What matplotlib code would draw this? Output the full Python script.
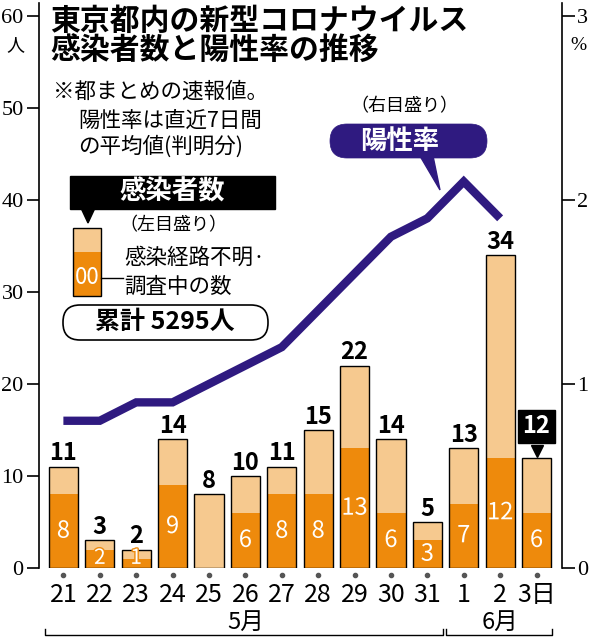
import matplotlib
matplotlib.use("Agg")
import matplotlib.pyplot as plt
import matplotlib.patheffects as pe
from matplotlib.patches import FancyBboxPatch, Polygon, Rectangle
import numpy as np

# data
days = ["21", "22", "23", "24", "25", "26", "27", "28", "29", "30", "31", "1", "2", "3日"]
total = [11, 3, 2, 14, 8, 10, 11, 15, 22, 14, 5, 13, 34, 12]
unknown = [8, 2, 1, 9, 0, 6, 8, 8, 13, 6, 3, 7, 12, 6]
rate = [0.8, 0.8, 0.9, 0.9, 1.0, 1.1, 1.2, 1.4, 1.6, 1.8, 1.9, 2.1, 1.9]
months = ["5月", "6月"]
month_span = [(0, 10), (11, 13)]
left_ticks = [0, 10, 20, 30, 40, 50, 60]
right_ticks = [0, 1, 2, 3]

DARK = "#ee8a0c"
LIGHT = "#f6c98f"
PURPLE = "#2f1a80"

NARROW = ["Liberation Sans Narrow", "Noto Sans CJK JP", "DejaVu Sans"]
JP = ["Noto Sans CJK JP", "DejaVu Sans"]
SERIF = ["Liberation Serif", "DejaVu Serif"]

fig = plt.figure(figsize=(5.92, 6.4), dpi=100)
ax = fig.add_axes([39 / 592, 1 - 568 / 640, (562 - 39) / 592, 565 / 640])
x = np.arange(len(days))
w = 0.8

ax.bar(x, total, w, color=LIGHT, lw=0, zorder=2)
ax.bar(x, unknown, w, color=DARK, lw=0, zorder=3)
ax.bar(x, total, w, fill=False, edgecolor="black", lw=1.0, zorder=4)

for i in range(len(days) - 1):
    ax.annotate(str(total[i]), (x[i], total[i]), xytext=(0, 1), textcoords="offset points",
                ha="center", va="bottom", fontsize=17, fontweight="bold", family=NARROW, zorder=6)
for i in range(len(days)):
    if unknown[i] == 0:
        continue
    small = total[i] <= 3
    ax.text(x[i], 1.1 if small else unknown[i] / 2, str(unknown[i]), ha="center", va="center",
            color="white", fontsize=15 if small else 17, family=NARROW, zorder=6,
            path_effects=[pe.withStroke(linewidth=2, foreground=DARK)])

# last day highlighted
ax.text(x[-1], total[-1] + 3.4, str(total[-1]), ha="center", va="center", color="white",
        fontsize=17, fontweight="bold", family=NARROW, zorder=7,
        bbox=dict(boxstyle="square,pad=0.18", fc="black", ec="black"))
ax.plot([x[-1]], [total[-1] + 0.75], marker="v", color="black", ms=8, zorder=7, clip_on=False)

ax.set_xlim(-0.67, 13.7)
ax.set_ylim(0, 61.4)
ax.set_yticks(left_ticks)
ax.set_yticklabels([str(t) for t in left_ticks], family=SERIF, fontsize=16)
ax.tick_params(axis="y", length=9, width=1.2, pad=2)
ax.set_xticks(x)
ax.set_xticklabels(days, family=NARROW, fontsize=18)
ax.tick_params(axis="x", length=0, pad=10)
ax.plot(x, [-0.8] * len(x), "o", color="#555555", ms=3, clip_on=False, zorder=5)
for s in ["top", "bottom", "right"]:
    ax.spines[s].set_visible(False)
ax.spines["left"].set_linewidth(1.2)

for m, (a, b) in zip(months, month_span):
    ax.text((a + b) / 2, -5.9, m, ha="center", va="center", fontsize=17, family=NARROW)
    ax.plot([a - 0.5, a - 0.5, b + 0.42, b + 0.42], [-6.6, -7.3, -7.3, -6.6],
            color="black", lw=1.0, clip_on=False)

ax2 = ax.twinx()
ax2.set_ylim(0, 61.4 / 20)
ax2.plot(x[:len(rate)], rate, color=PURPLE, lw=6, solid_joinstyle="miter",
         solid_capstyle="butt", zorder=5)
ax2.set_yticks(right_ticks)
ax2.set_yticklabels([str(t) for t in right_ticks], family=SERIF, fontsize=16)
ax2.tick_params(axis="y", length=9, width=1.2, pad=2)
for s in ["top", "bottom", "left"]:
    ax2.spines[s].set_visible(False)
ax2.spines["right"].set_linewidth(1.2)

# overlay in pixel coordinates for titles and legend pieces
ov = fig.add_axes([0, 0, 1, 1])
ov.set_xlim(0, 592)
ov.set_ylim(640, 0)
ov.axis("off")
ov.set_zorder(10)

ov.text(15, 45, "人", ha="center", va="center", fontsize=13, family=JP)
ov.text(578, 45, "%", ha="center", va="center", fontsize=14, family=SERIF)

ov.text(50, 21, "東京都内の新型コロナウイルス", ha="left", va="center",
        fontsize=21.5, fontweight="bold", family=JP)
ov.text(50, 51, "感染者数と陽性率の推移", ha="left", va="center",
        fontsize=21.5, fontweight="bold", family=JP)
ov.text(53, 92, "※都まとめの速報値。", ha="left", va="center", fontsize=15.5, family=JP)
ov.text(78, 121, "陽性率は直近7日間", ha="left", va="center", fontsize=15.5, family=JP)
ov.text(78, 147, "の平均値(判明分)", ha="left", va="center", fontsize=15.5, family=JP)

# infections legend
ov.add_patch(Rectangle((70, 176), 205, 33, fc="black", ec="black"))
ov.text(172, 192, "感染者数", ha="center", va="center", color="white",
        fontsize=19, fontweight="bold", family=JP)
ov.add_patch(Polygon([(81, 208), (95, 208), (88, 223)], closed=True, fc="black", ec="black"))
ov.text(173, 225, "（左目盛り）", ha="center", va="center", fontsize=13, family=JP)
ov.add_patch(Rectangle((73, 228), 28, 24, fc=LIGHT, lw=0))
ov.add_patch(Rectangle((73, 252), 28, 44, fc=DARK, lw=0))
ov.add_patch(Rectangle((73, 228), 28, 68, fill=False, ec="black", lw=1.0))
ov.text(87, 278, "00", ha="center", va="center", color="white", fontsize=16, family=NARROW)
ov.plot([101, 123], [278, 278], color="black", lw=1.0)
ov.text(124, 258, "感染経路不明·", ha="left", va="center", fontsize=15.5, family=JP)
ov.text(124, 287, "調査中の数", ha="left", va="center", fontsize=15.5, family=JP)

ov.add_patch(FancyBboxPatch((63, 305), 205, 35, boxstyle="round,pad=0,rounding_size=17",
                            fc="white", ec="black", lw=1.2))
ov.text(165, 322, "累計 5295人", ha="center", va="center", fontsize=18,
        fontweight="bold", family=JP)

# positivity legend
ov.text(404, 106, "（右目盛り）", ha="center", va="center", fontsize=13, family=JP)
ov.add_patch(FancyBboxPatch((330, 124), 157, 34, boxstyle="round,pad=0,rounding_size=17",
                            fc=PURPLE, ec=PURPLE, lw=0.5))
ov.add_patch(Polygon([(420, 156), (433, 156), (440, 190)], closed=True, fc=PURPLE, ec=PURPLE))
ov.text(400, 141, "陽性率", ha="center", va="center", color="white",
        fontsize=19, fontweight="bold", family=JP)

fig.savefig("out.png", dpi=100)
